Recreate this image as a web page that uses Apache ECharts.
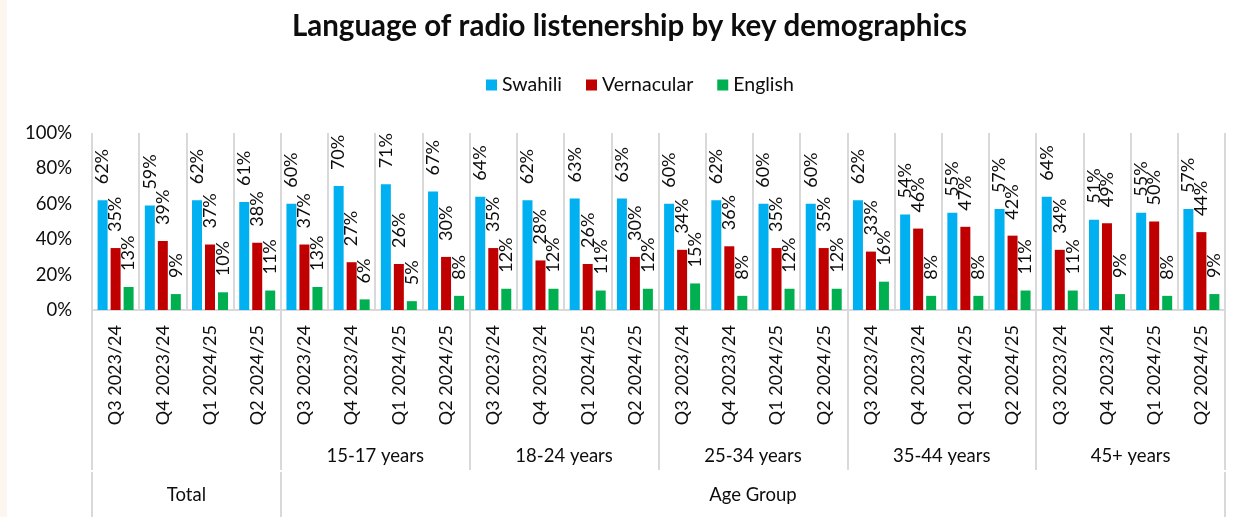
<!DOCTYPE html>
<html>
<head>
<meta charset="utf-8">
<title>Language of radio listenership by key demographics</title>
<script src="https://cdn.jsdelivr.net/npm/echarts@6/dist/echarts.min.js"></script>
<style>
  html, body { margin: 0; padding: 0; background: #ffffff; }
  #chart {
    width: 1245px;
    height: 517px;
    border-left: 7px solid #fdf6ee;
    background: #ffffff;
  }
</style>
</head>
<body>
<div id="chart"></div>
<script>
// Quarter labels repeated for every demographic block
const quarters = ['Q3 2023/24', 'Q4 2023/24', 'Q1 2024/25', 'Q2 2024/25'];
const groups = ['Total', '15-17 years', '18-24 years', '25-34 years', '35-44 years', '45+ years'];
const topLevel = ['Total', '', '', 'Age Group', '', ''];

// Share of listeners (%) by language, in block order: Total, 15-17, 18-24, 25-34, 35-44, 45+
const swahili = [
  62, 59, 62, 61,
  60, 70, 71, 67,
  64, 62, 63, 63,
  60, 62, 60, 60,
  62, 54, 55, 57,
  64, 51, 55, 57
];
const vernacular = [
  35, 39, 37, 38,
  37, 27, 26, 30,
  35, 28, 26, 30,
  34, 36, 35, 35,
  33, 46, 47, 42,
  34, 49, 50, 44
];
const english = [
  13, 9, 10, 11,
  13, 6, 5, 8,
  12, 12, 11, 12,
  15, 8, 12, 12,
  16, 8, 8, 11,
  11, 9, 8, 9
];

const yTicks = { min: 0, max: 100, interval: 20 };

const categories = [];
groups.forEach(() => quarters.forEach(q => categories.push(q)));

const FONT = 'Lato, "Open Sans", sans-serif';
const TEXT = '#0d0d0d';
const RULE = '#d9d9d9';

const chart = echarts.init(document.getElementById('chart'), null, { renderer: 'canvas' });

function barSeries(name, values, color) {
  return {
    name: name,
    type: 'bar',
    data: values,
    xAxisIndex: 0,
    barWidth: 10,
    barGap: '30%',
    itemStyle: { color: color },
    label: {
      show: true,
      position: 'top',
      rotate: 90,
      align: 'left',
      verticalAlign: 'middle',
      distance: 16,
      formatter: '{c}%',
      fontFamily: FONT,
      fontSize: 18,
      color: TEXT
    }
  };
}

chart.setOption({
  backgroundColor: '#ffffff',
  animation: false,
  title: {
    text: 'Language of radio listenership by key demographics',
    left: 'center',
    top: 6,
    textStyle: { fontFamily: FONT, fontSize: 29.5, fontWeight: 'bold', color: TEXT }
  },
  legend: {
    top: 70,
    left: 474,
    icon: 'rect',
    itemWidth: 11,
    itemHeight: 11,
    itemGap: 24,
    textStyle: { fontFamily: FONT, fontSize: 19.5, color: TEXT },
    data: ['Swahili', 'Vernacular', 'English']
  },
  grid: { left: 85, right: 27, top: 133, bottom: 207, containLabel: false },
  xAxis: [
    {
      type: 'category',
      data: categories,
      position: 'bottom',
      axisLine: { show: true, lineStyle: { color: RULE, width: 2 } },
      axisTick: { show: false },
      splitLine: { show: true, interval: 0, lineStyle: { color: RULE, width: 2 } },
      axisLabel: {
        interval: 0,
        rotate: 90,
        margin: 15,
        fontFamily: FONT,
        fontSize: 18,
        color: TEXT
      }
    },
    {
      type: 'category',
      data: groups.map((g, i) => (i === 0 ? '' : g)),
      position: 'bottom',
      offset: 0,
      axisLine: { show: false },
      axisTick: { show: true, interval: 0, length: 160, lineStyle: { color: RULE, width: 2 } },
      splitLine: { show: false },
      axisLabel: {
        interval: 0,
        margin: 137,
        fontFamily: FONT,
        fontSize: 18.5,
        color: TEXT
      }
    },
    {
      type: 'category',
      data: topLevel,
      position: 'bottom',
      offset: 162,
      axisLine: { show: false },
      axisTick: {
        show: true,
        interval: (index) => index === 0 || index === 1,
        length: 45,
        lineStyle: { color: RULE, width: 2 }
      },
      splitLine: { show: false },
      axisLabel: {
        interval: 0,
        margin: 14,
        fontFamily: FONT,
        fontSize: 18.5,
        color: TEXT
      }
    }
  ],
  yAxis: {
    type: 'value',
    min: yTicks.min,
    max: yTicks.max,
    interval: yTicks.interval,
    axisLine: { show: false },
    axisTick: { show: false },
    splitLine: { show: false },
    axisLabel: {
      formatter: '{value}%',
      margin: 20,
      fontFamily: FONT,
      fontSize: 18.5,
      color: TEXT
    }
  },
  series: [
    barSeries('Swahili', swahili, '#00b0f0'),
    barSeries('Vernacular', vernacular, '#c00000'),
    barSeries('English', english, '#00b050')
  ]
});
</script>
</body>
</html>
